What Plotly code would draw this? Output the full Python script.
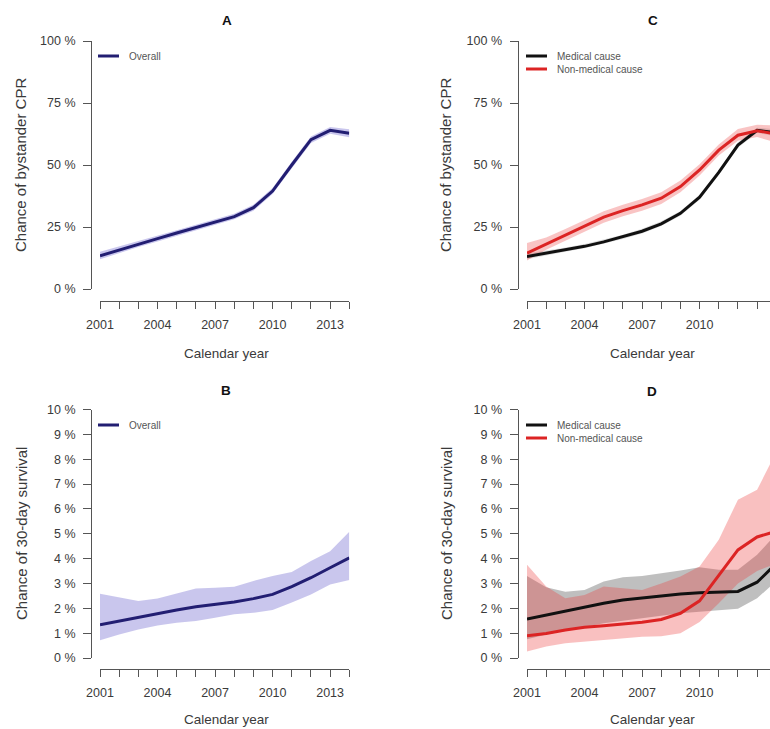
import plotly.graph_objects as go

# ---------------- data ----------------
years = [2001, 2002, 2003, 2004, 2005, 2006, 2007, 2008, 2009, 2010, 2011, 2012, 2013, 2014]
xtick_labels = ["2001", "", "", "2004", "", "", "2007", "", "", "2010", "", "", "2013", ""]

# Panel A: bystander CPR, overall (%)
cpr_overall = [13.4, 15.8, 18.0, 20.3, 22.6, 24.8, 26.9, 29.2, 32.8, 39.5, 50.0, 60.2, 64.0, 62.8]
cpr_overall_lo = [12.0, 14.6, 16.9, 19.2, 21.5, 23.7, 25.8, 28.1, 31.6, 38.3, 48.7, 58.9, 62.6, 61.2]
cpr_overall_hi = [15.0, 17.1, 19.2, 21.4, 23.7, 25.9, 28.0, 30.3, 34.0, 40.7, 51.3, 61.5, 65.3, 64.4]

# Panel C: bystander CPR by cause (%)
cpr_med = [13.1, 14.5, 15.8, 17.2, 19.0, 21.0, 23.3, 26.3, 30.5, 37.0, 47.0, 58.0, 64.0, 63.0]
cpr_med_lo = [12.0, 13.6, 15.0, 16.4, 18.2, 20.2, 22.4, 25.4, 29.5, 36.0, 46.0, 57.0, 63.0, 61.5]
cpr_med_hi = [14.3, 15.4, 16.7, 18.1, 19.9, 21.9, 24.3, 27.3, 31.5, 38.0, 48.0, 59.2, 65.0, 64.5]
cpr_nonmed = [14.5, 18.2, 21.8, 25.5, 29.0, 31.6, 33.9, 36.6, 41.3, 48.0, 56.0, 62.0, 63.8, 62.5]
cpr_nonmed_lo = [11.5, 15.8, 19.5, 23.2, 26.7, 29.3, 31.6, 34.3, 39.0, 45.8, 53.8, 59.8, 61.3, 59.0]
cpr_nonmed_hi = [18.5, 20.8, 24.2, 27.8, 31.4, 34.0, 36.3, 39.0, 43.7, 50.3, 58.3, 64.5, 66.2, 66.0]

# Panel B: 30-day survival, overall (%)
surv_overall = [1.34, 1.49, 1.62, 1.80, 1.93, 2.06, 2.16, 2.25, 2.39, 2.56, 2.87, 3.23, 3.63, 4.03]
surv_overall_lo = [0.71, 0.95, 1.15, 1.31, 1.42, 1.49, 1.62, 1.76, 1.82, 1.93, 2.23, 2.56, 2.96, 3.14]
surv_overall_hi = [2.59, 2.43, 2.29, 2.39, 2.59, 2.80, 2.83, 2.87, 3.10, 3.30, 3.46, 3.90, 4.30, 5.08]

# Panel D: 30-day survival by cause (%)
surv_med = [1.57, 1.73, 1.90, 2.05, 2.20, 2.33, 2.42, 2.50, 2.58, 2.63, 2.66, 2.68, 3.05, 3.80]
surv_med_lo = [0.75, 0.95, 1.10, 1.25, 1.40, 1.50, 1.60, 1.70, 1.80, 1.86, 1.93, 1.98, 2.40, 3.10]
surv_med_hi = [3.30, 2.85, 2.67, 2.74, 3.08, 3.25, 3.30, 3.40, 3.52, 3.65, 3.55, 3.55, 4.15, 5.00]
surv_nonmed = [0.89, 0.99, 1.13, 1.24, 1.30, 1.37, 1.44, 1.55, 1.80, 2.30, 3.35, 4.35, 4.87, 5.10]
surv_nonmed_lo = [0.26, 0.46, 0.59, 0.66, 0.73, 0.79, 0.86, 0.88, 1.00, 1.45, 2.20, 3.00, 3.50, 3.80]
surv_nonmed_hi = [3.75, 2.88, 2.40, 2.54, 2.88, 2.81, 2.74, 3.00, 3.28, 3.68, 4.76, 6.37, 6.77, 8.30]

cpr_ticks = [0, 25, 50, 75, 100]
cpr_tick_labels = ["0 %", "25 %", "50 %", "75 %", "100 %"]
surv_ticks = [0, 1, 2, 3, 4, 5, 6, 7, 8, 9, 10]
surv_tick_labels = ["0 %", "1 %", "2 %", "3 %", "4 %", "5 %", "6 %", "7 %", "8 %", "9 %", "10 %"]

panel_titles = ["A", "B", "C", "D"]
cpr_title = "Chance of bystander CPR"
surv_title = "Chance of 30-day survival"
x_title = "Calendar year"
legend_overall = ["Overall"]
legend_cause = ["Medical cause", "Non-medical cause"]

# ---------------- style ----------------
W, H = 770, 729
FONT = "Liberation Sans, Arial, Helvetica, sans-serif"
BLUE = "#221e72"
BLUE_BAND = "rgba(60,50,190,0.28)"
RED = "#dc2424"
RED_BAND = "rgba(235,60,60,0.32)"
RED_BAND_C = "rgba(235,60,60,0.30)"
BLACK = "#111111"
GRAY_BAND = "rgba(0,0,0,0.25)"
GRAY_BAND_C = "rgba(0,0,0,0.13)"
AXIS_COLOR = "#555555"
TEXT_COLOR = "#3a3a3a"
LEGEND_TEXT = "#555555"

def px(x):
    return x / W

def py(y):
    return 1 - y / H

PX_PER_YEAR = (349.3 - 100) / 13.0
LEFT_X0, RIGHT_X0 = 100, 527
LEFT_YAX, RIGHT_YAX = 91, 517.5
right_end_year = 2001 + (W - RIGHT_X0) / PX_PER_YEAR

panels = {
    # name: (x px start, x px end, x range end, y-axis line px, y top px, y bottom px, x-axis line px)
    "A": (LEFT_X0, 349.3, 2014, LEFT_YAX, 41, 289, 300.5),
    "C": (RIGHT_X0, W, right_end_year, RIGHT_YAX, 41, 289, 300.5),
    "B": (LEFT_X0, 349.3, 2014, LEFT_YAX, 409.5, 658, 669),
    "D": (RIGHT_X0, W, right_end_year, RIGHT_YAX, 409.5, 658, 669),
}
axis_ids = {"A": ("x", "y", "xaxis", "yaxis"),
            "C": ("x2", "y2", "xaxis2", "yaxis2"),
            "B": ("x3", "y3", "xaxis3", "yaxis3"),
            "D": ("x4", "y4", "xaxis4", "yaxis4")}

fig = go.Figure()

def band(name, lo, hi, color):
    xa, ya = axis_ids[name][0], axis_ids[name][1]
    fig.add_trace(go.Scatter(x=years, y=hi, mode="lines", line=dict(width=0, color=color),
                             xaxis=xa, yaxis=ya, showlegend=False, hoverinfo="skip"))
    fig.add_trace(go.Scatter(x=years, y=lo, mode="lines", line=dict(width=0, color=color),
                             fill="tonexty", fillcolor=color,
                             xaxis=xa, yaxis=ya, showlegend=False, hoverinfo="skip"))

def line(name, vals, color, label):
    xa, ya = axis_ids[name][0], axis_ids[name][1]
    fig.add_trace(go.Scatter(x=years, y=vals, mode="lines", name=label,
                             line=dict(width=3, color=color),
                             xaxis=xa, yaxis=ya, showlegend=False))

# Panel A
band("A", cpr_overall_lo, cpr_overall_hi, BLUE_BAND)
line("A", cpr_overall, BLUE, legend_overall[0])
# Panel C
band("C", cpr_med_lo, cpr_med_hi, GRAY_BAND_C)
band("C", cpr_nonmed_lo, cpr_nonmed_hi, RED_BAND_C)
line("C", cpr_med, BLACK, legend_cause[0])
line("C", cpr_nonmed, RED, legend_cause[1])
# Panel B
band("B", surv_overall_lo, surv_overall_hi, BLUE_BAND)
line("B", surv_overall, BLUE, legend_overall[0])
# Panel D
band("D", surv_med_lo, surv_med_hi, GRAY_BAND)
band("D", surv_nonmed_lo, surv_nonmed_hi, RED_BAND)
line("D", surv_med, BLACK, legend_cause[0])
line("D", surv_nonmed, RED, legend_cause[1])

tick_font = dict(family=FONT, size=12.5, color=TEXT_COLOR)
layout = dict(width=W, height=H, autosize=False,
              margin=dict(l=0, r=0, t=0, b=0, pad=0, autoexpand=False),
              paper_bgcolor="white", plot_bgcolor="white", showlegend=False,
              font=dict(family=FONT, color=TEXT_COLOR))

for name, (x0, x1, xend, yax, ytop, ybot, xax) in panels.items():
    xa, ya, xkey, ykey = axis_ids[name]
    is_cpr = name in ("A", "C")
    layout[xkey] = dict(domain=[px(x0), px(x1)], range=[2001, xend], anchor="free",
                        position=py(xax), showline=True, linecolor=AXIS_COLOR, linewidth=1,
                        ticks="outside", ticklen=7, tickwidth=1, tickcolor=AXIS_COLOR,
                        tickvals=years, ticktext=xtick_labels, tickfont=tick_font,
                        ticklabelstandoff=5, showgrid=False, zeroline=False,
                        fixedrange=True, automargin=False)
    layout[ykey] = dict(domain=[py(ybot), py(ytop)],
                        range=[0, 100] if is_cpr else [0, 10], anchor="free",
                        position=px(yax), showline=True, linecolor=AXIS_COLOR, linewidth=1,
                        ticks="outside", ticklen=8, tickwidth=1, tickcolor=AXIS_COLOR,
                        tickvals=cpr_ticks if is_cpr else surv_ticks,
                        ticktext=cpr_tick_labels if is_cpr else surv_tick_labels,
                        tickfont=tick_font, ticklabelstandoff=5,
                        showgrid=False, zeroline=False, fixedrange=True, automargin=False)

annotations = []
shapes = []

def ann(text, x, y, size, bold=False, angle=0, xanchor="center", color=TEXT_COLOR):
    annotations.append(dict(text=f"<b>{text}</b>" if bold else text, x=px(x), y=py(y),
                            xref="paper", yref="paper", showarrow=False, textangle=angle,
                            xanchor=xanchor, yanchor="middle",
                            font=dict(family=FONT, size=size, color=color)))

# panel titles
ann(panel_titles[0], 227, 21, 13.5, bold=True, color="#111")
ann(panel_titles[1], 226, 390, 13.5, bold=True, color="#111")
ann(panel_titles[2], 653, 21, 13.5, bold=True, color="#111")
ann(panel_titles[3], 652, 391, 13.5, bold=True, color="#111")
# axis titles
ann(cpr_title, 21, 165, 15, angle=-90)
ann(cpr_title, 446, 165, 15, angle=-90)
ann(surv_title, 21, 534, 15, angle=-90)
ann(surv_title, 446, 534, 15, angle=-90)
ann(x_title, 226, 353, 13.5)
ann(x_title, 652, 353, 13.5)
ann(x_title, 226, 719, 13.5)
ann(x_title, 652, 719, 13.5)

# legends
def legend_entry(x_line0, x_line1, y, color, text):
    shapes.append(dict(type="line", xref="paper", yref="paper",
                       x0=px(x_line0), x1=px(x_line1), y0=py(y), y1=py(y),
                       line=dict(color=color, width=3)))
    ann(text, x_line1 + 8, y, 10, xanchor="left", color=LEGEND_TEXT)

legend_entry(98, 119, 56, BLUE, legend_overall[0])
legend_entry(98, 119, 425, BLUE, legend_overall[0])
legend_entry(526, 547, 56, BLACK, legend_cause[0])
legend_entry(526, 547, 69, RED, legend_cause[1])
legend_entry(526, 547, 425, BLACK, legend_cause[0])
legend_entry(526, 547, 438, RED, legend_cause[1])

layout["annotations"] = annotations
layout["shapes"] = shapes
fig.update_layout(**layout)

fig.write_html("out.html", config={"responsive": False, "displayModeBar": False},
               post_script="document.body.style.margin='0';document.body.style.overflow='hidden';")
